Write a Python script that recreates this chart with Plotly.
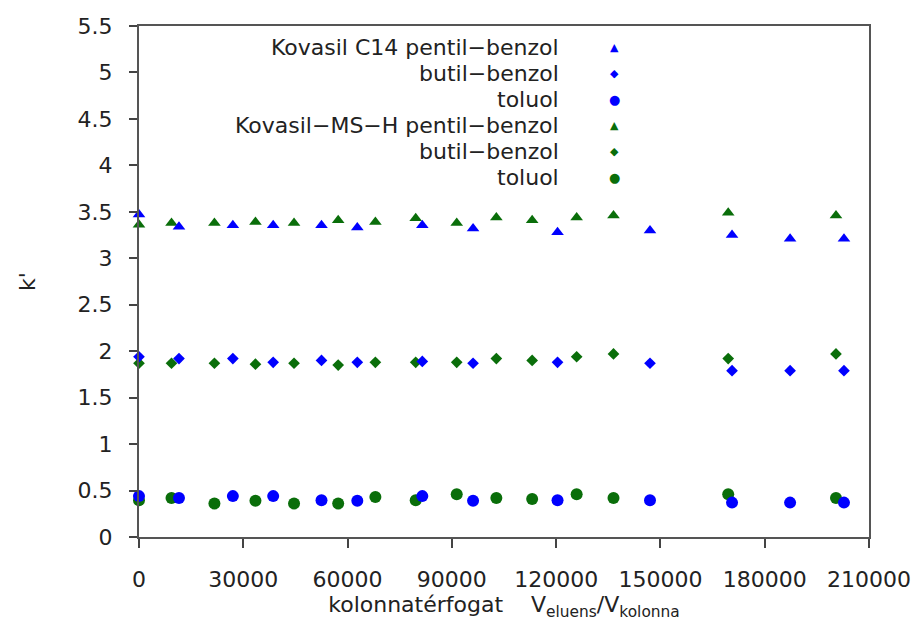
import plotly.graph_objects as go

# ---------------- data ----------------
c14_x = [0, 11500, 27000, 38600, 52500, 62800, 81500, 96100, 120400, 147000, 170600, 187300, 202800]
c14_pentil = [3.47, 3.34, 3.355, 3.355, 3.355, 3.33, 3.355, 3.32, 3.28, 3.30, 3.25, 3.21, 3.21]
c14_butil = [1.94, 1.92, 1.92, 1.88, 1.90, 1.88, 1.89, 1.87, 1.88, 1.87, 1.79, 1.79, 1.79]
c14_toluol = [0.44, 0.42, 0.44, 0.44, 0.395, 0.39, 0.44, 0.39, 0.395, 0.395, 0.37, 0.37, 0.37]

msh_x = [0, 9350, 21700, 33500, 44600, 57300, 68000, 79600, 91400, 102800, 113100, 125900, 136500, 169500, 200500]
msh_pentil = [3.36, 3.38, 3.38, 3.39, 3.38, 3.41, 3.39, 3.43, 3.38, 3.44, 3.41, 3.44, 3.46, 3.49, 3.46]
msh_butil = [1.87, 1.87, 1.87, 1.86, 1.87, 1.85, 1.88, 1.88, 1.88, 1.92, 1.90, 1.94, 1.97, 1.92, 1.97]
msh_toluol = [0.395, 0.42, 0.36, 0.39, 0.36, 0.36, 0.43, 0.395, 0.46, 0.42, 0.41, 0.46, 0.42, 0.46, 0.42]

legend_labels = ["Kovasil C14 pentil\u2212benzol", "butil\u2212benzol", "toluol",
                 "Kovasil\u2212MS\u2212H pentil\u2212benzol", "butil\u2212benzol", "toluol"]
legend_glyphs = ["\u25B2", "\u25C6", "\u25CF", "\u25B2", "\u25C6", "\u25CF"]

x_ticks = [0, 30000, 60000, 90000, 120000, 150000, 180000, 210000]
y_ticks = [0, 0.5, 1, 1.5, 2, 2.5, 3, 3.5, 4, 4.5, 5, 5.5]
y_ticktext = ["0", "0.5", "1", "1.5", "2", "2.5", "3", "3.5", "4", "4.5", "5", "5.5"]

BLUE = "#0000FF"
GREEN = "#0A6E0A"
FONT = "DejaVu Sans"
TXT = "#222222"
FS = 22

fig = go.Figure()

series = [
    (msh_x, msh_pentil, "triangle-up", 11, GREEN),
    (msh_x, msh_butil, "diamond", 9, GREEN),
    (msh_x, msh_toluol, "circle", 12, GREEN),
    (c14_x, c14_pentil, "triangle-up", 11, BLUE),
    (c14_x, c14_butil, "diamond", 9, BLUE),
    (c14_x, c14_toluol, "circle", 12, BLUE),
]
for xs, ys, sym, sz, col in series:
    fig.add_trace(go.Scatter(
        x=xs, y=ys, mode="markers", cliponaxis=False, showlegend=False,
        marker=dict(symbol=sym, size=sz, color=col, line=dict(width=0)),
    ))

# plot area in pixels
L, R, T, B = 139, 50, 26, 87
W, H = 923, 624
pw, ph = W - L - R, H - T - B

def px_to_paper_x(px):
    return (px - L) / pw

def py_to_paper_y(py):
    return (H - B - py) / ph

annotations = []
glyph_colors = [BLUE, BLUE, BLUE, GREEN, GREEN, GREEN]
glyph_sizes = [11, 11, 13, 11, 11, 13]
for i, (lab, g) in enumerate(zip(legend_labels, legend_glyphs)):
    ypx = 47.5 + 26 * i
    annotations.append(dict(
        x=px_to_paper_x(563), y=py_to_paper_y(ypx), xref="paper", yref="paper",
        xanchor="right", yanchor="middle", text=lab, showarrow=False,
        font=dict(family=FONT, size=FS, color=TXT)))
    annotations.append(dict(
        x=px_to_paper_x(617), y=py_to_paper_y(ypx), xref="paper", yref="paper",
        xanchor="center", yanchor="middle", text=g, showarrow=False,
        font=dict(family=FONT, size=glyph_sizes[i], color=glyph_colors[i])))

fig.update_layout(
    width=W, height=H,
    margin=dict(l=L, r=R, t=T, b=B, pad=0),
    paper_bgcolor="white", plot_bgcolor="white",
    font=dict(family=FONT, size=FS, color=TXT),
    annotations=annotations,
    xaxis=dict(
        range=[0, 210000], tickvals=x_ticks, ticktext=[str(v) for v in x_ticks],
        ticks="outside", ticklen=9, tickwidth=1.5, tickcolor="#444",
        showline=True, linecolor="#555", linewidth=2, mirror=True,
        showgrid=False, zeroline=False, ticklabelstandoff=13,
        tickfont=dict(family=FONT, size=FS, color=TXT),
        title=dict(text="kolonnatérfogat\u00a0\u00a0\u00a0\u00a0V<sub>eluens</sub>/V<sub>kolonna</sub>",
                   font=dict(family=FONT, size=FS, color=TXT), standoff=2),
    ),
    yaxis=dict(
        range=[0, 5.5], tickvals=y_ticks, ticktext=y_ticktext,
        ticks="outside", ticklen=8, tickwidth=1.5, tickcolor="#444",
        showline=True, linecolor="#555", linewidth=2, mirror=True,
        showgrid=False, zeroline=False, ticklabelstandoff=12,
        tickfont=dict(family=FONT, size=FS, color=TXT),
        title=dict(text="k'", font=dict(family=FONT, size=FS, color=TXT), standoff=36),
    ),
)

fig.write_html("out.html", config={"displayModeBar": False},
               post_script="document.body.style.margin='0px';document.body.style.overflow='hidden';")
